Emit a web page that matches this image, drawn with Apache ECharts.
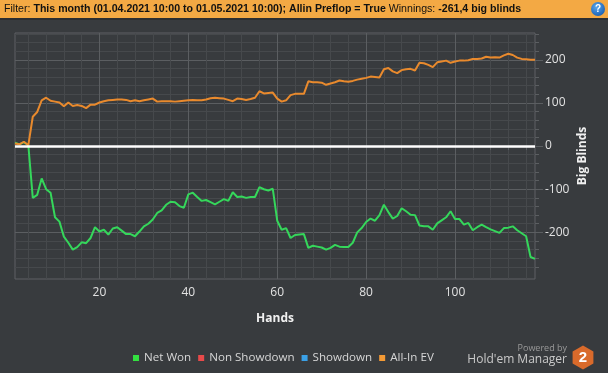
<!DOCTYPE html>
<html>
<head>
<meta charset="utf-8">
<script src="https://cdn.jsdelivr.net/npm/echarts@6/dist/echarts.min.js"></script>
<style>
html,body{margin:0;padding:0;background:#383b3e;}
#c{width:608px;height:373px;}
</style>
</head>
<body>
<div id="c"></div>
<script>
// ---- data ----
const hands = Array.from({length: 118}, (_, i) => String(i + 1));
const netWon = [
  8, 4, 9, 2, -120, -113, -75, -100, -108, -165,
  -175, -210, -224, -240, -234, -223, -225, -213, -188, -198,
  -194, -205, -191, -188, -196, -204, -204, -209, -198, -186,
  -180, -170, -155, -149, -136, -129, -130, -139, -143, -112,
  -108, -118, -127, -125, -130, -135, -129, -123, -127, -107,
  -118, -117, -120, -118, -118, -95, -100, -103, -99, -173,
  -194, -190, -213, -206, -205, -204, -236, -231, -233, -235,
  -240, -236, -229, -233, -234, -234, -224, -200, -190, -176,
  -168, -173, -160, -136, -153, -168, -162, -144, -151, -159,
  -160, -184, -186, -186, -194, -179, -172, -165, -151, -169,
  -169, -182, -178, -195, -188, -182, -188, -193, -197, -201,
  -190, -189, -186, -195, -202, -209, -257, -261.4
];
const allInEV = [
  6, 4, 10, 2, 68, 79, 106, 112, 105, 103,
  101, 92, 101, 93, 95, 93, 88, 96, 96, 101,
  104, 106, 107, 108, 108, 107, 104, 106, 104, 106,
  108, 110, 103, 104, 104, 104, 103, 104, 105, 106,
  107, 106, 106, 108, 111, 112, 111, 110, 107, 104,
  110, 109, 107, 109, 112, 127, 122, 123, 124, 110,
  103, 106, 118, 121, 121, 121, 150, 148, 148, 147,
  142, 145, 148, 152, 150, 149, 151, 154, 156, 158,
  161, 160, 159, 178, 181, 173, 169, 176, 178, 179,
  175, 193, 192, 188, 183, 194, 196, 198, 193, 196,
  198, 198, 199, 202, 202, 203, 207, 205, 206, 205,
  210, 214, 211, 205, 202, 201, 200, 200
];
const nonShowdown = [];
const showdown = [];
const seriesNames = ['Net Won', 'Non Showdown', 'Showdown', 'All-In EV'];
const legendColors = ['#33e040', '#e84a4a', '#3aa0e6', '#f39a35'];

// ---- styling ----
const FONT = '"Open Sans", "Noto Sans", sans-serif';
const HFONT = '"Liberation Sans", sans-serif';
const MINOR = '#46494c';
const MAJOR = '#5b5e61';
const LBL = '#e2e2e2';
const L = 15, R = 73;

const chart = echarts.init(document.getElementById('c'), null, {renderer: 'canvas'});
const option = {
  animation: false,
  backgroundColor: '#383b3e',
  textStyle: {fontFamily: FONT},
  title: {
    left: 4, top: 4, padding: 0,
    text: '{n|Filter: }{b|This month (01.04.2021 10:00 to 01.05.2021 10:00); Allin Preflop = True }{n|Winnings: }{b|-261,4 big blinds}',
    textStyle: {
      fontSize: 10.6,
      rich: {
        n: {fontFamily: HFONT, fontSize: 10.6, color: '#111', fontWeight: 'normal'},
        b: {fontFamily: HFONT, fontSize: 10.6, color: '#111', fontWeight: 'bold'}
      }
    }
  },
  graphic: [
    {type: 'rect', z: -1, shape: {x: 0, y: 0, width: 608, height: 18}, style: {fill: '#f3a944'}, silent: true},
    {type: 'rect', z: -1, shape: {x: 0, y: 18, width: 608, height: 2}, style: {fill: '#2c2e31'}, silent: true},
    {type: 'circle', shape: {cx: 598, cy: 9, r: 7}, style: {fill: new echarts.graphic.RadialGradient(0.4, 0.35, 0.7, [{offset: 0, color: '#5aa7ee'}, {offset: 1, color: '#1a5fb0'}])}},
    {type: 'text', x: 598, y: 9.5, style: {text: '?', fill: '#fff', font: 'bold 10px "Liberation Sans"', align: 'center', verticalAlign: 'middle', textAlign: 'center', textVerticalAlign: 'middle'}},
    {type: 'text', x: 567, y: 348, style: {text: 'Powered by', fill: '#9a9a9a', font: '9px ' + FONT, align: 'right', verticalAlign: 'middle', textAlign: 'right', textVerticalAlign: 'middle'}},
    {type: 'text', x: 567, y: 360, style: {text: "Hold'em Manager", fill: '#c9c9c9', font: '12px ' + FONT, align: 'right', verticalAlign: 'middle', textAlign: 'right', textVerticalAlign: 'middle'}},
    {type: 'polygon', shape: {points: [[583, 345.5], [593.4, 351.5], [593.4, 363.5], [583, 369.5], [572.6, 363.5], [572.6, 351.5]]}, style: {fill: '#d96a2b'}},
    {type: 'text', x: 583, y: 358, style: {text: '2', fill: '#fff', font: 'bold 15px "Liberation Sans"', align: 'center', verticalAlign: 'middle', textAlign: 'center', textVerticalAlign: 'middle'}}
  ],
  legend: {
    left: 133, top: 352, padding: 0,
    itemWidth: 6, itemHeight: 6, itemGap: 7,
    icon: 'rect',
    textStyle: {color: '#d6d6d6', fontSize: 11.6, fontFamily: FONT},
    data: seriesNames.map((n, i) => ({name: n, itemStyle: {color: legendColors[i]}}))
  },
  grid: [
    {left: L, right: R, top: 33, bottom: 94, show: true, borderColor: '#5e6164', borderWidth: 1, backgroundColor: 'transparent'},
    {left: L, right: R, top: 33.86, bottom: 106.1, show: false},
    {left: L, right: R, top: 59.75, bottom: 140.61, show: false}
  ],
  xAxis: [
    {
      gridIndex: 0, type: 'category', data: hands, boundaryGap: false, position: 'bottom',
      name: 'Hands', nameLocation: 'middle', nameGap: 34,
      nameTextStyle: {color: '#f0f0f0', fontWeight: 'bold', fontSize: 12, fontFamily: FONT},
      axisLine: {show: false},
      axisTick: {show: true, length: 4, interval: (i, v) => (+v) % 4 === 0, lineStyle: {color: MAJOR}},
      axisLabel: {interval: (i, v) => (+v) % 20 === 0, color: LBL, fontSize: 12, margin: 8, fontFamily: FONT},
      splitLine: {show: true, interval: (i, v) => (+v) % 4 === 0, lineStyle: {color: MINOR, width: 1}}
    },
    {
      gridIndex: 0, type: 'category', data: hands, boundaryGap: false, position: 'bottom',
      axisLine: {show: false}, axisTick: {show: false}, axisLabel: {show: false},
      splitLine: {show: true, interval: (i, v) => (+v) % 20 === 0, lineStyle: {color: MAJOR, width: 1}}
    },
    {gridIndex: 1, type: 'category', data: hands, boundaryGap: false, show: false},
    {gridIndex: 2, type: 'category', data: hands, boundaryGap: false, show: false}
  ],
  yAxis: [
    {
      gridIndex: 0, type: 'value', min: -308, max: 262, position: 'right',
      name: 'Big Blinds', nameLocation: 'middle', nameRotate: 90, nameGap: 42,
      nameTextStyle: {color: '#f0f0f0', fontWeight: 'bold', fontSize: 12, fontFamily: FONT},
      axisLine: {show: false}, axisTick: {show: false}, axisLabel: {show: false}, splitLine: {show: false}
    },
    {
      gridIndex: 1, type: 'value', min: -280, max: 260, interval: 20, position: 'right',
      axisLine: {show: false},
      axisTick: {show: true, length: 4, lineStyle: {color: MAJOR}},
      axisLabel: {show: false},
      splitLine: {show: true, lineStyle: {color: MINOR, width: 1}}
    },
    {
      gridIndex: 2, type: 'value', min: -200, max: 200, interval: 100, position: 'right',
      axisLine: {show: false},
      axisTick: {show: true, length: 8, lineStyle: {color: MAJOR}},
      axisLabel: {show: true, color: LBL, fontSize: 12, margin: 10, fontFamily: FONT},
      splitLine: {show: true, lineStyle: {color: MAJOR, width: 1}}
    }
  ],
  series: [
    {
      name: 'Net Won', type: 'line', xAxisIndex: 0, yAxisIndex: 0, data: netWon,
      showSymbol: false, symbol: 'none', lineStyle: {color: '#35d75b', width: 2}, itemStyle: {color: '#35d75b'}, z: 3,
      markLine: {
        silent: true, symbol: 'none', label: {show: false},
        lineStyle: {color: '#ffffff', width: 2.5, type: 'solid'},
        data: [{yAxis: 0}]
      }
    },
    {name: 'Non Showdown', type: 'line', xAxisIndex: 0, yAxisIndex: 0, data: nonShowdown, showSymbol: false, itemStyle: {color: '#e84a4a'}},
    {name: 'Showdown', type: 'line', xAxisIndex: 0, yAxisIndex: 0, data: showdown, showSymbol: false, itemStyle: {color: '#3aa0e6'}},
    {
      name: 'All-In EV', type: 'line', xAxisIndex: 0, yAxisIndex: 0, data: allInEV,
      showSymbol: false, symbol: 'none', lineStyle: {color: '#e98a2d', width: 2}, itemStyle: {color: '#e98a2d'}, z: 3
    }
  ]
};
chart.setOption(option);
</script>
</body>
</html>
